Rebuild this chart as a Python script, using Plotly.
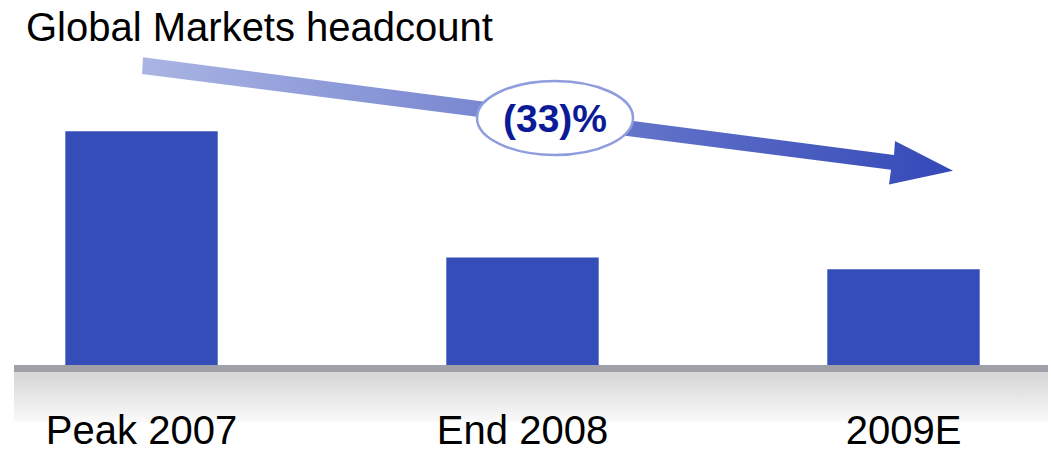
import plotly.graph_objects as go

# ---- data ----
categories = ["Peak 2007", "End 2008", "2009E"]
headcount_index = [100, 46, 41]          # relative headcount (Peak 2007 = 100)
change_label = "(33)%"
title_text = "Global Markets headcount"

# ---- styles ----
FONT = "Liberation Sans, Arial, sans-serif"
BAR_COLOR = "#344DB8"
W, H = 1051, 452

fig = go.Figure()

fig.add_trace(go.Bar(
    x=categories, y=headcount_index,
    marker=dict(color=BAR_COLOR, line=dict(width=0)),
    width=0.40, hoverinfo="skip", showlegend=False,
))

# ---- decorative overlay (pixel space) ----
# shadow gradient under the baseline
fig.add_trace(go.Scatter(
    x=[14, 1048, 1048, 14, 14], y=[377, 377, 428, 428, 377],
    xaxis="x2", yaxis="y2", mode="lines", line=dict(width=0),
    fill="toself",
    fillgradient=dict(type="vertical", start=377, stop=428,
                      colorscale=[[0, "#D8D8D8"], [1, "#FFFFFF"]]),
    hoverinfo="skip", showlegend=False,
))

# trend arrow
arrow_x = [143, 894, 895, 953, 889, 891, 142, 143]
arrow_y = [58, 157, 143, 173, 187, 172, 75, 58]
fig.add_trace(go.Scatter(
    x=arrow_x, y=arrow_y, xaxis="x2", yaxis="y2",
    mode="lines", line=dict(width=0), fill="toself",
    fillgradient=dict(type="horizontal",
                      colorscale=[[0, "#AAB5E3"], [1, "#3449B8"]]),
    hoverinfo="skip", showlegend=False,
))

fig.update_layout(
    width=W, height=H,
    margin=dict(l=0, r=0, t=0, b=0),
    paper_bgcolor="white", plot_bgcolor="rgba(0,0,0,0)",
    font=dict(family=FONT, color="black"),
    bargap=0.6,
    xaxis=dict(
        range=[-141.5 / 381, (W - 141.5) / 381],
        anchor="free", position=(H - 370) / H,
        showline=False, showgrid=False, zeroline=False, ticks="",
        tickfont=dict(family=FONT, size=40, color="black"),
        ticklabelstandoff=38,
        fixedrange=True,
    ),
    yaxis=dict(
        domain=[0, 1],
        range=[-(H - 370) / 2.37, 370 / 2.37],
        visible=False, fixedrange=True,
    ),
    xaxis2=dict(overlaying="x", anchor="y2", range=[0, W], visible=False,
                fixedrange=True),
    yaxis2=dict(overlaying="y", anchor="x2", range=[H, 0], visible=False,
                fixedrange=True),
    shapes=[
        dict(type="rect", xref="x2", yref="y2", x0=14, x1=1048, y0=370, y1=377,
             fillcolor="#A0A0A9", line=dict(width=0), layer="above"),
        dict(type="circle", xref="x2", yref="y2", x0=477, x1=633, y0=82, y1=157,
             fillcolor="white", line=dict(color="#8F9DDF", width=2.5),
             layer="above"),
    ],
    annotations=[
        dict(text=title_text, xref="x2", yref="y2", x=24, y=27,
             xanchor="left", yanchor="middle", showarrow=False,
             font=dict(family=FONT, size=40, color="black")),
        dict(text="<b>" + change_label + "</b>", xref="x2", yref="y2",
             x=555, y=120, xanchor="center", yanchor="middle", showarrow=False,
             font=dict(family=FONT, size=39, color="#0B1B98")),
    ],
)

fig.write_html(
    "out.html",
    config={"displayModeBar": False, "staticPlot": True},
    post_script="document.body.style.margin='0';document.body.style.overflow='hidden';",
)
